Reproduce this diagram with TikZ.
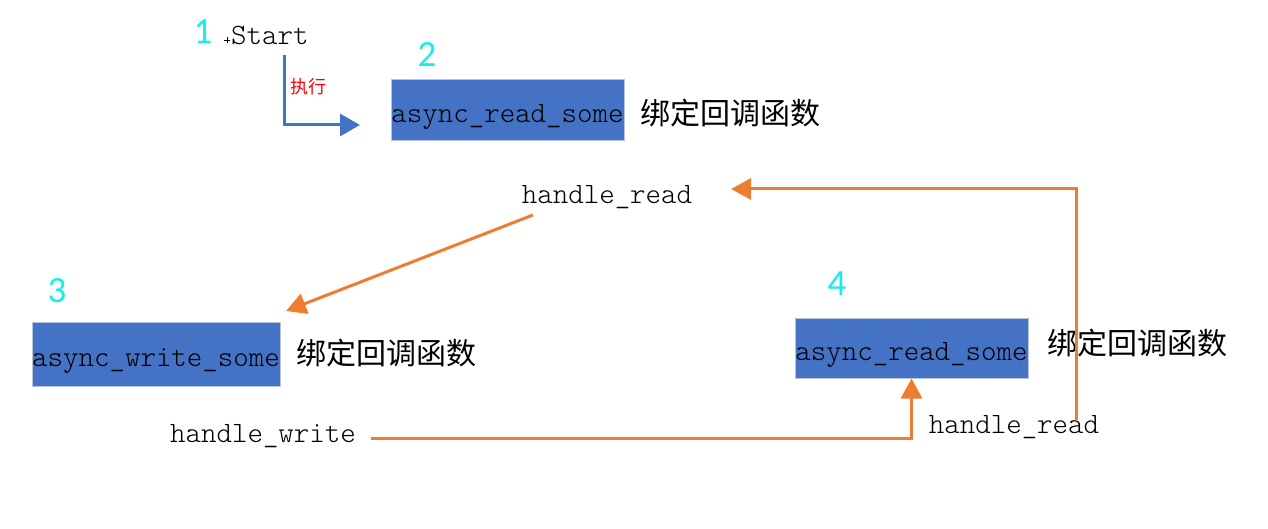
\documentclass[tikz,border=0pt]{standalone}
\usepackage{fontspec}
\usepackage{tikz}
\usetikzlibrary{arrows.meta}
\usetikzlibrary{positioning}
\newfontfamily\cjk{Noto Sans CJK SC}
\newfontfamily\numfont{Carlito}
\definecolor{boxblue}{HTML}{4472C4}
\definecolor{lineorange}{HTML}{ED7D31}
\definecolor{numcyan}{HTML}{14EEEE}
\definecolor{boxedge}{HTML}{B8C4DA}

\begin{document}
\begin{tikzpicture}[x=1pt, y=-1pt,
    callbox/.style={draw=boxedge, line width=1pt, fill=boxblue, inner sep=0pt,
        minimum height=61pt, text height=31pt, text depth=6pt,
        font=\ttfamily\fontseries{l}\fontsize{29.5}{29.5}\selectfont},
    code/.style={inner sep=0pt, font=\ttfamily\fontseries{l}\fontsize{29.5}{29.5}\selectfont},
    bindtxt/.style={inner sep=0pt, anchor=west, font=\cjk\fontsize{30}{30}\selectfont},
    stepnum/.style={inner sep=0pt, text=numcyan, font=\numfont\fontsize{37}{37}\selectfont},
    blueflow/.style={draw=boxblue, line width=3pt, -{Triangle[length=20pt,width=22pt]}},
    orangeflow/.style={draw=lineorange, line width=3pt, -{Triangle[length=20pt,width=21pt]}}]
    \useasboundingbox (0,0) rectangle (1268,529);

    % step 1
    \node[stepnum] (n1) at (203,32) {1};
    \node[code, anchor=west] (start) at (231,35) {Start};
    \draw[line width=.6pt] (224,40) -- (230,40) (227,37) -- (227,43);
    \coordinate (startdown) at (284,55);
    \coordinate (startbend) at (284,125);
    \coordinate (starttip) at (360,125);
    \draw[blueflow] (startdown) -- (startbend) -- (starttip);
    \node[inner sep=0pt, text=red, font=\cjk\fontsize{18}{18}\selectfont] (exec) at (308,87) {执行};

    % step 2
    \node[stepnum] (n2) at (427,54) {2};
    \node[callbox, minimum width=233pt] (read1) at (507.5,110.5) {async\_read\_some};
    \node[bindtxt] (bind1) at (640,113) {绑定回调函数};
    \node[code] (hread1) at (607,197) {handle\_read};

    % step 3
    \node[stepnum] (n3) at (57,291) {3};
    \node[callbox, minimum width=248pt, minimum height=64pt] (write1) at (156,354) {async\_write\_some};
    \node[bindtxt] (bind2) at (296,353) {绑定回调函数};
    \node[code] (hwrite) at (263,436) {handle\_write};

    % step 4
    \node[stepnum] (n4) at (837,284) {4};
    \node[callbox, minimum width=233pt, minimum height=60pt] (read2) at (911.5,348) {async\_read\_some};
    \node[bindtxt] (bind3) at (1047,343) {绑定回调函数};
    \node[code] (hread2) at (1014,427) {handle\_read};

    % callbacks
    \coordinate (readfrom) at (533,215);
    \coordinate (writetip) at (286,311);
    \draw[orangeflow] (readfrom) -- (writetip);
    \draw[orangeflow] (hwrite.east) ++(15,2) -| (read2.south);
    \coordinate (loopup) at (1076,420);
    \coordinate (loopbend) at (1076,189);
    \coordinate (looptip) at (731,189);
    \draw[orangeflow] (loopup) -- (loopbend) -- (looptip);
\end{tikzpicture}
\end{document}
